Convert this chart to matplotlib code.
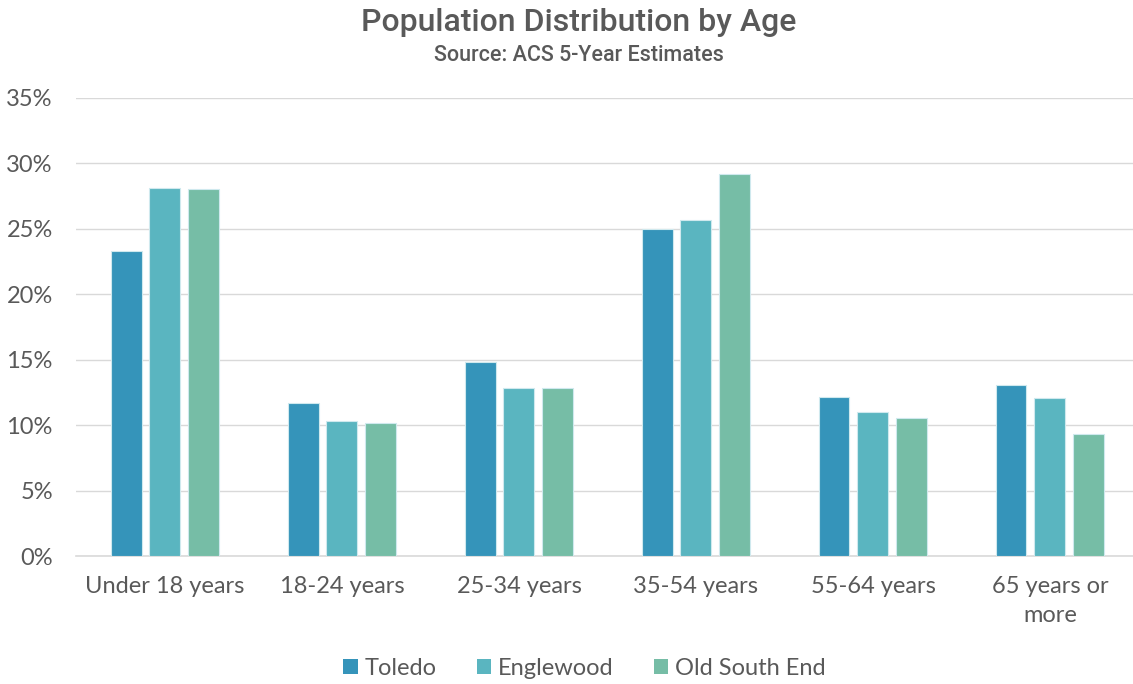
import matplotlib.pyplot as plt
import numpy as np
from matplotlib.ticker import PercentFormatter

categories = ['Under 18 years', '18-24 years', '25-34 years', '35-54 years',
              '55-64 years', '65 years or\nmore']
toledo = [23.3, 11.7, 14.85, 25.0, 12.15, 13.1]
englewood = [28.1, 10.35, 12.85, 25.7, 11.0, 12.1]
old_south_end = [28.05, 10.2, 12.8, 29.2, 10.55, 9.35]

series = [('Toledo', toledo, '#3594BA'),
          ('Englewood', englewood, '#5AB5C0'),
          ('Old South End', old_south_end, '#76BDA6')]

txt = '#595959'
plt.rcParams['font.family'] = ['Lato', 'DejaVu Sans']

fig = plt.figure(figsize=(11.33, 6.84), dpi=100)
ax = fig.add_axes([0.0675, 0.187, 0.9373, 0.67])

x = np.arange(len(categories))
w = 0.175
step = 0.22
for i, (name, vals, col) in enumerate(series):
    ax.bar(x + (i - 1) * step, vals, w, color=col, label=name,
           edgecolor='#cfe9ee', linewidth=0.8, zorder=3)

ax.set_xlim(-0.5, len(categories) - 0.5)
ax.set_ylim(0, 35)
ax.set_yticks(np.arange(0, 36, 5))
ax.yaxis.set_major_formatter(PercentFormatter(decimals=0))
ax.set_xticks(x)
ax.set_xticklabels(categories)
ax.grid(axis='y', color='#d9d9d9', linewidth=1, zorder=0)
for s in ['top', 'right', 'left']:
    ax.spines[s].set_visible(False)
ax.spines['bottom'].set_color('#d9d9d9')
ax.spines['bottom'].set_linewidth(1.2)
ax.tick_params(length=0, labelsize=17, colors=txt)
ax.tick_params(axis='x', pad=14)
ax.tick_params(axis='y', pad=17)
for lab in ax.get_xticklabels():
    lab.set_linespacing(1.5)

fig.text(0.511, 0.967, 'Population Distribution by Age', ha='center', va='center',
         fontsize=23, color=txt, family=['Roboto', 'DejaVu Sans'], fontweight='medium')
fig.text(0.511, 0.919, 'Source: ACS 5-Year Estimates', ha='center', va='center',
         fontsize=15.5, color=txt, family=['Roboto', 'DejaVu Sans'], fontweight='medium')

leg = fig.legend(loc='center', bbox_to_anchor=(0.516, 0.023), ncol=3, frameon=False,
                 fontsize=17, handlelength=0.6, handleheight=0.6, handletextpad=0.3,
                 columnspacing=1.7, labelcolor=txt)
for h in leg.legend_handles:
    h.set_edgecolor('none')

fig.savefig('out.png', dpi=100)
